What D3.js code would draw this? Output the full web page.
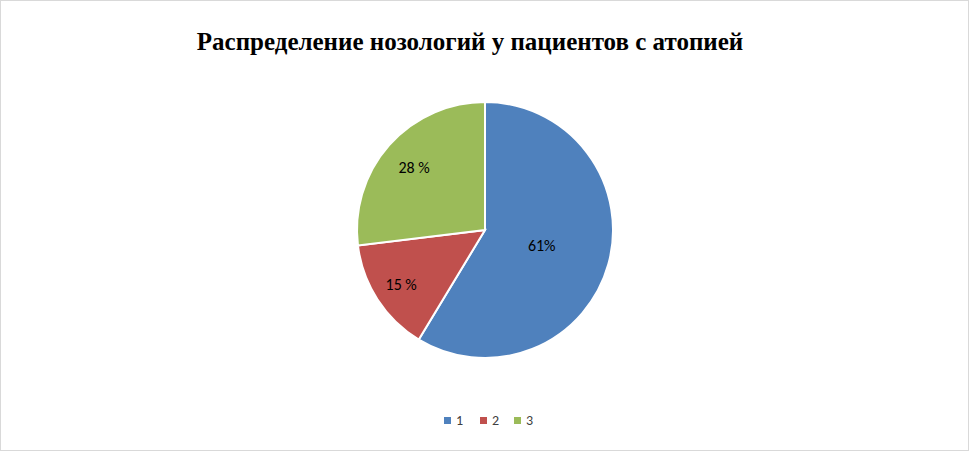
<!DOCTYPE html>
<html><head><meta charset="utf-8">
<script src="https://cdn.jsdelivr.net/npm/d3@7"></script>
<style>body{margin:0;background:#fff}</style></head>
<body><svg id="c" width="970" height="452"></svg>
<script>
const categories = ["1", "2", "3"];
const values = [61, 15, 28];
const labels = ["61%", "15 %", "28 %"];
const colors = ["#4F81BD", "#C0504D", "#9BBB59"];
const labelRadii = [0.46, 0.78, 0.74];

const svg = d3.select("#c");
svg.append("rect").attr("x",0.5).attr("y",0.5).attr("width",968).attr("height",450)
  .attr("fill","#fff").attr("stroke","#d9d9d9");
svg.append("text").attr("x",470).attr("y",50).attr("text-anchor","middle")
  .attr("font-family","Liberation Serif, Times New Roman, serif").attr("font-weight","bold")
  .attr("font-size",25).text("Распределение нозологий у пациентов с  атопией");

const cx=485, cy=230, r=128;
const g = svg.append("g").attr("transform",`translate(${cx},${cy})`);
const pie = d3.pie().sort(null).value(d=>d);
const arcs = pie(values);
const arc = d3.arc().innerRadius(0).outerRadius(r);
g.selectAll("path").data(arcs).enter().append("path")
  .attr("d",arc).attr("fill",(d,i)=>colors[i]).attr("stroke","#fff").attr("stroke-width",2);
g.selectAll("text.l").data(arcs).enter().append("text")
  .attr("transform",(d,i)=>{const a=d3.arc().innerRadius(r*labelRadii[i]).outerRadius(r*labelRadii[i]);return `translate(${a.centroid(d)})`;})
  .attr("text-anchor","middle").attr("dy","0.35em")
  .attr("font-family","Calibri, Carlito, Liberation Sans, sans-serif").attr("font-size",16)
  .attr("fill","#000").text((d,i)=>labels[i]);

const lx=[447,483,517];
const lg = svg.append("g");
categories.forEach((c,i)=>{
  lg.append("rect").attr("x",lx[i]-3).attr("y",417).attr("width",7).attr("height",7).attr("fill",colors[i]);
  lg.append("text").attr("x",lx[i]+9).attr("y",425).attr("font-family","Calibri, Carlito, Liberation Sans, sans-serif")
    .attr("font-size",14).attr("fill","#404040").text(c);
});
</script></body></html>
